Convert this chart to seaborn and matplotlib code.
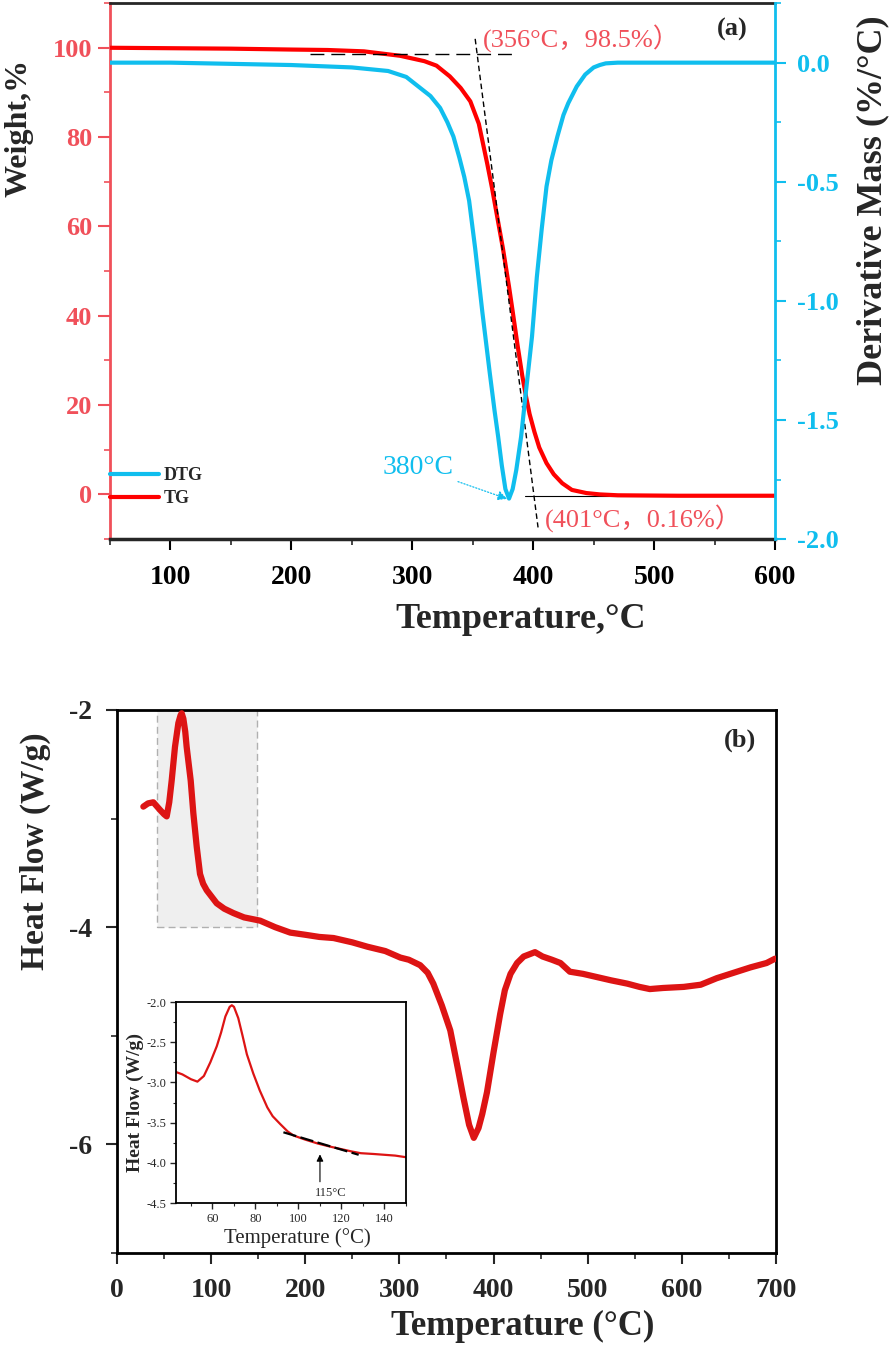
import matplotlib
matplotlib.use("Agg")
import matplotlib.pyplot as plt
from matplotlib.ticker import MultipleLocator, FormatStrFormatter
from matplotlib.patches import Rectangle
import seaborn as sns

# (a) TG / DTG curves
tg_temp = [50, 100, 150, 200, 230, 260, 290, 310, 320, 331, 340, 348, 355, 362, 366, 370,
           375, 380, 383, 387, 391, 394, 397, 401, 405, 411, 417, 424, 432, 444, 455, 470, 520, 600]
tg_weight = [100, 99.9, 99.8, 99.6, 99.5, 99.2, 98.2, 97.0, 96.0, 93.6, 91.0, 88.0, 83.0, 74.0, 68.5, 62.5,
             55.0, 46.5, 41.0, 33.5, 26.5, 22.0, 18.0, 14.0, 10.5, 7.0, 4.5, 2.5, 1.0, 0.3, 0.0, -0.2, -0.3, -0.3]

dtg_temp = [50, 100, 150, 200, 250, 280, 295, 305, 315, 323, 329, 334, 339, 343, 347, 352, 358, 364,
            368, 371, 374, 377, 380, 383, 386, 390, 394, 399, 403, 407, 411, 415, 420, 425, 429, 436,
            443, 450, 455, 460, 470, 500, 550, 600]
dtg_rate = [0.0, 0.0, -0.005, -0.01, -0.02, -0.035, -0.06, -0.10, -0.14, -0.19, -0.25, -0.31, -0.40, -0.48,
            -0.58, -0.78, -1.05, -1.30, -1.46, -1.57, -1.69, -1.79, -1.83, -1.79, -1.71, -1.57, -1.38, -1.15,
            -0.90, -0.70, -0.52, -0.41, -0.31, -0.22, -0.17, -0.10, -0.05, -0.02, -0.01, -0.003, 0.0, 0.0, 0.0, 0.0]

# onset / endset construction lines
onset_h_temp = [215, 383]
onset_h_weight = [98.5, 98.5]
tangent_temp = [352, 404]
tangent_weight = [102, -7.4]
end_h_temp = [393, 600]
end_h_weight = [-0.3, -0.3]

# (b) DSC curve
dsc_temp = [28, 33, 38.6, 45.7, 50, 52.8, 55.5, 58.1, 61.6, 65.2, 67.5, 68.7, 70.5, 72.5, 74, 78.3, 81.1,
            84.7, 88.2, 91.5, 95.3, 105.9, 114, 123.6, 135, 152, 168, 184, 200, 215, 230, 250, 266, 285,
            301, 310, 322, 330, 336, 345, 354, 362, 368, 374, 379, 384, 388, 393, 400, 407, 412, 418, 425,
            432, 438, 444, 452, 462, 471, 481, 495, 510, 525, 542, 555, 566, 580, 602, 620, 637, 655, 673,
            690, 699]
dsc_heat = [-2.89, -2.86, -2.85, -2.92, -2.96, -2.98, -2.85, -2.65, -2.34, -2.12, -2.05, -2.03, -2.08,
            -2.2, -2.34, -2.65, -2.95, -3.26, -3.51, -3.60, -3.66, -3.78, -3.83, -3.87, -3.91, -3.94, -4.00,
            -4.05, -4.07, -4.09, -4.10, -4.14, -4.18, -4.22, -4.28, -4.30, -4.35, -4.42, -4.52, -4.72, -4.95,
            -5.30, -5.57, -5.82, -5.94, -5.85, -5.72, -5.52, -5.15, -4.80, -4.58, -4.43, -4.33, -4.27, -4.25,
            -4.23, -4.27, -4.30, -4.33, -4.41, -4.43, -4.46, -4.49, -4.52, -4.55, -4.57, -4.56, -4.55, -4.53,
            -4.47, -4.42, -4.37, -4.33, -4.29]

inset_temp = [43, 46, 50, 53, 56, 59, 62, 64, 66, 68, 69, 70, 72, 74, 76, 79, 82, 85.5, 88, 91.6, 95,
              97.7, 103, 109, 115, 120, 125, 129, 135, 140, 145, 150]
inset_heat = [-2.87, -2.90, -2.96, -2.99, -2.92, -2.75, -2.55, -2.38, -2.18, -2.06, -2.04, -2.06, -2.20,
              -2.42, -2.65, -2.89, -3.10, -3.31, -3.42, -3.52, -3.61, -3.66, -3.71, -3.76, -3.80, -3.83,
              -3.86, -3.88, -3.89, -3.90, -3.91, -3.93]
inset_tangent_temp = [93, 128]
inset_tangent_heat = [-3.62, -3.90]

red = "#FF0000"
axis_red = "#F0505A"
cyan = "#10BEEE"
dsc_red = "#DD1414"

sns.set_style("ticks")
plt.rcParams['font.family'] = ['Liberation Serif', 'Noto Sans CJK SC']
plt.rcParams['font.weight'] = 'bold'
plt.rcParams['axes.labelweight'] = 'bold'
plt.rcParams['axes.unicode_minus'] = False

fig = plt.figure(figsize=(8.93, 13.49), dpi=100)

# ---------------- panel (a) ----------------
ax1 = fig.add_axes([0.1232, 0.6004, 0.7447, 0.3973])
ax2 = ax1.twinx()

sns.lineplot(x=tg_temp, y=tg_weight, ax=ax1, color=red, linewidth=3, legend=False, zorder=3)
sns.lineplot(x=dtg_temp, y=dtg_rate, ax=ax2, color=cyan, linewidth=3, legend=False)

ax1.plot(onset_h_temp, onset_h_weight, color="black", lw=1, dashes=(10, 5), zorder=4)
ax1.plot(tangent_temp, tangent_weight, color="black", lw=1, dashes=(4, 2.5), zorder=4)
ax1.plot(end_h_temp, end_h_weight, color="black", lw=0.8, zorder=2)

ax1.set_xlim(50, 600)
ax1.set_ylim(-10, 110)
ax2.set_ylim(-2.0, 0.25)

ax1.xaxis.set_major_locator(MultipleLocator(100))
ax1.xaxis.set_minor_locator(MultipleLocator(50))
ax1.yaxis.set_major_locator(MultipleLocator(20))
ax1.yaxis.set_minor_locator(MultipleLocator(10))
ax2.yaxis.set_major_locator(MultipleLocator(0.5))
ax2.yaxis.set_minor_locator(MultipleLocator(0.25))
ax2.yaxis.set_major_formatter(FormatStrFormatter('%.1f'))

ax1.tick_params(axis='x', which='major', length=8, width=1.5, labelsize=20, pad=11, colors='black')
ax1.tick_params(axis='x', which='minor', length=4, width=1.2)
ax1.tick_params(axis='y', which='major', length=9, width=1.5, labelsize=19, pad=4,
                colors=axis_red, labelcolor=axis_red)
ax1.tick_params(axis='y', which='minor', length=4, width=1.2, colors=axis_red)
ax2.tick_params(axis='y', which='major', length=8, width=1.5, labelsize=19, pad=8,
                colors=cyan, labelcolor=cyan)
ax2.tick_params(axis='y', which='minor', length=4, width=1.2, colors=cyan)

for lab in ax1.get_xticklabels() + ax1.get_yticklabels() + ax2.get_yticklabels():
    lab.set_fontweight('bold')

ax1.spines['left'].set_color(axis_red)
ax1.spines['left'].set_linewidth(2)
ax1.spines['bottom'].set_linewidth(2.5)
ax1.spines['top'].set_linewidth(2)
ax1.spines['right'].set_visible(False)
ax2.spines['right'].set_color(cyan)
ax2.spines['right'].set_linewidth(2)
for s in ['left', 'top', 'bottom']:
    ax2.spines[s].set_visible(False)

ax1.set_xlabel("Temperature,°C", fontsize=26, fontweight='bold')
ax1.xaxis.label.set_va('center')
ax1.xaxis.set_label_coords(0.618, -0.151)
ax1.set_ylabel("Weight,%", fontsize=23, fontweight='bold')
ax1.yaxis.label.set_va('center')
ax1.yaxis.set_label_coords(-0.137, 0.767)
ax2.set_ylabel("Derivative Mass (%/°C)", fontsize=26, fontweight='bold')
ax2.yaxis.label.set_va('center')
ax2.yaxis.set_label_coords(1.147, 0.632)

ax1.text(0.935, 0.95, "(a)", transform=ax1.transAxes, fontsize=19, fontweight='bold',
         ha='center', va='center')
ax1.text(440, 102, "(356°C，98.5%）", color=axis_red, fontsize=19, fontweight='normal',
         ha='center', va='center', zorder=5)
ax1.text(491, -5.4, "(401°C，0.16%）", color=axis_red, fontsize=19, fontweight='normal',
         ha='center', va='center', zorder=5)
ax1.annotate("380°C", xy=(378.5, -1.0), xytext=(334, 6.0), color=cyan, fontsize=20,
             fontweight='normal', ha='right', va='center',
             arrowprops=dict(arrowstyle='-|>', color=cyan, lw=0.9, linestyle=(0, (1, 1.5)),
                             shrinkA=1, shrinkB=0, mutation_scale=14))

handles = [ax2.lines[0], ax1.lines[0]]
ax1.legend(handles, ["DTG", "TG"], loc='lower left', bbox_to_anchor=(0.0, 0.06),
           frameon=False, fontsize=13, handlelength=2.7, handletextpad=0.25,
           labelspacing=0.3, borderpad=0, borderaxespad=0)

# ---------------- panel (b) ----------------
ax3 = fig.add_axes([0.131, 0.0712, 0.738, 0.4025])
ax3.add_patch(Rectangle((42, -4.0), 107, 2.0, facecolor="#EFEFEF", edgecolor="#B0B0B0",
                        lw=1, linestyle=(0, (5, 3)), zorder=1))
sns.lineplot(x=dsc_temp, y=dsc_heat, ax=ax3, color=dsc_red, linewidth=4.5, legend=False, zorder=3)
ax3.set_xlim(0, 700)
ax3.set_ylim(-7, -2)
ax3.xaxis.set_major_locator(MultipleLocator(100))
ax3.xaxis.set_minor_locator(MultipleLocator(50))
ax3.yaxis.set_major_locator(MultipleLocator(2))
ax3.yaxis.set_minor_locator(MultipleLocator(1))
ax3.tick_params(which='major', length=8, width=1.5, labelsize=20, pad=10)
ax3.tick_params(which='minor', length=4, width=1.2)
for lab in ax3.get_xticklabels() + ax3.get_yticklabels():
    lab.set_fontweight('bold')
for s in ax3.spines.values():
    s.set_linewidth(2)
    s.set_color('black')
ax3.set_xlabel("Temperature (°C)", fontsize=25, fontweight='bold')
ax3.xaxis.label.set_va('center')
ax3.xaxis.set_label_coords(0.615, -0.136)
ax3.set_ylabel("Heat Flow (W/g)", fontsize=24, fontweight='bold')
ax3.yaxis.label.set_va('center')
ax3.yaxis.set_label_coords(-0.124, 0.74)
ax3.text(0.945, 0.945, "(b)", transform=ax3.transAxes, fontsize=19, fontweight='bold',
         ha='center', va='center')

# inset
ax4 = fig.add_axes([0.197, 0.1082, 0.2576, 0.149])
sns.lineplot(x=inset_temp, y=inset_heat, ax=ax4, color=dsc_red, linewidth=1.6, legend=False)
ax4.plot(inset_tangent_temp, inset_tangent_heat, color='black', lw=1.6, dashes=(6, 2), zorder=4)
ax4.annotate("", xy=(110, -3.86), xytext=(110, -4.27),
             arrowprops=dict(arrowstyle='-|>', color='black', lw=0.8, mutation_scale=10))
ax4.text(115, -4.37, "115°C", fontsize=9, fontweight='normal', ha='center', va='center')
ax4.set_xlim(43, 150)
ax4.set_ylim(-4.5, -2.0)
ax4.xaxis.set_major_locator(MultipleLocator(20))
ax4.xaxis.set_minor_locator(MultipleLocator(10))
ax4.yaxis.set_major_locator(MultipleLocator(0.5))
ax4.yaxis.set_minor_locator(MultipleLocator(0.25))
ax4.yaxis.set_major_formatter(FormatStrFormatter('%.1f'))
ax4.tick_params(which='major', length=4, width=1, labelsize=9, pad=3)
ax4.tick_params(which='minor', length=2, width=0.8)
for lab in ax4.get_xticklabels() + ax4.get_yticklabels():
    lab.set_fontweight('normal')
for s in ax4.spines.values():
    s.set_linewidth(1.3)
    s.set_color('black')
ax4.set_xlabel("Temperature (°C)", fontsize=15, fontweight='normal')
ax4.xaxis.label.set_va('center')
ax4.xaxis.set_label_coords(0.53, -0.174)
ax4.set_ylabel("Heat Flow (W/g)", fontsize=14, fontweight='bold')
ax4.yaxis.label.set_va('center')
ax4.yaxis.set_label_coords(-0.178, 0.5)

fig.savefig("out.png", dpi=100)
